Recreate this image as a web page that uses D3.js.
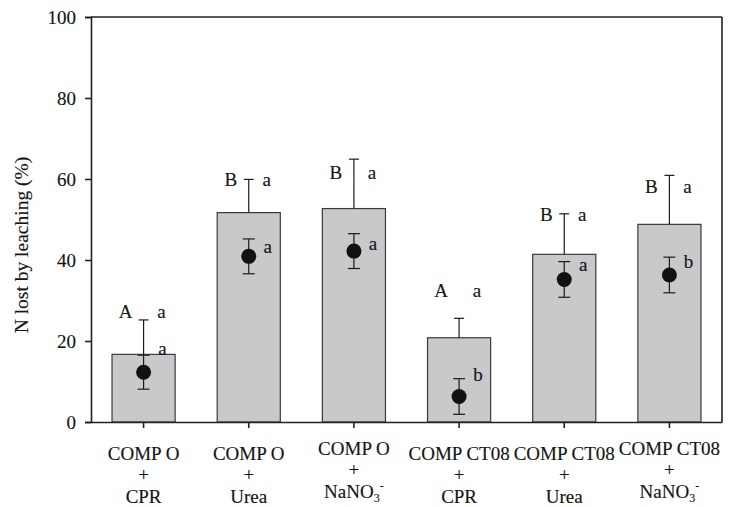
<!DOCTYPE html>
<html>
<head>
<meta charset="utf-8">
<script src="https://cdn.jsdelivr.net/npm/d3@7"></script>
<style>
  body { margin: 0; background: #fff; }
  text { font-family: 'Liberation Serif', 'Times New Roman', serif; fill: #151515; stroke: #151515; stroke-width: 0.15px; }
</style>
</head>
<body>
<div id="chart"></div>
<script>
// treatments
const composts = ['COMP O', 'COMP O', 'COMP O', 'COMP CT08', 'COMP CT08', 'COMP CT08']
const fertilizers = ['CPR', 'Urea', 'NaNO3', 'CPR', 'Urea', 'NaNO3']

// bars: N lost by leaching (%), upper error
const barMean = [16.7, 51.7, 52.7, 20.8, 41.4, 48.8]
const barErr = [8.5, 8.2, 12.2, 4.8, 10.0, 12.1]

// dots: second measure, symmetric error
const dotMean = [12.3, 40.9, 42.2, 6.3, 35.2, 36.3]
const dotErr = [4.2, 4.3, 4.3, 4.4, 4.4, 4.4]

// significance letters and where they sit (in % units, text baseline)
const barLetterUpper = ['A', 'B', 'B', 'A', 'B', 'B']
const barLetterLower = ['a', 'a', 'a', 'a', 'a', 'a']
const dotLetter = ['a', 'a', 'a', 'b', 'a', 'b']
const barLetterAt = [25.7, 58.3, 60.0, 30.9, 49.6, 56.5]
const dotLetterAt = [16.5, 41.8, 42.5, 10.1, 37.3, 38.0]

const yTicks = [0, 20, 40, 60, 80, 100]

const width = 743
const height = 507
const margin = { top: 17, right: 21, bottom: 85, left: 91 }
const innerW = width - margin.left - margin.right
const innerH = height - margin.top - margin.bottom
const fs = 19

const svg = d3.select('#chart').append('svg')
  .attr('width', width)
  .attr('height', height)

const g = svg.append('g')
  .attr('transform', 'translate(' + margin.left + ',' + margin.top + ')')

const idx = d3.range(barMean.length)

const x = d3.scaleBand()
  .domain(idx)
  .range([0, innerW])
  .paddingInner(0.4)
  .paddingOuter(0.2)

const y = d3.scaleLinear()
  .domain([0, 100])
  .range([innerH, 0])

const cx = function (i) { return x(i) + x.bandwidth() / 2 }

// bars
g.selectAll('.bar')
  .data(idx)
  .enter().append('rect')
  .attr('class', 'bar')
  .attr('x', function (i) { return x(i) })
  .attr('width', x.bandwidth())
  .attr('y', function (i) { return y(barMean[i]) })
  .attr('height', function (i) { return innerH - y(barMean[i]) })
  .attr('fill', '#c8c9cb')
  .attr('stroke', '#3a3a3a')
  .attr('stroke-width', 1.2)

// bar error (upper only)
const be = g.selectAll('.barerr')
  .data(idx)
  .enter().append('g')
  .attr('class', 'barerr')
  .attr('stroke', '#1a1a1a')
  .attr('stroke-width', 1.2)

be.append('line')
  .attr('x1', cx).attr('x2', cx)
  .attr('y1', function (i) { return y(barMean[i]) })
  .attr('y2', function (i) { return y(barMean[i] + barErr[i]) })
be.append('line')
  .attr('x1', function (i) { return cx(i) - 5 })
  .attr('x2', function (i) { return cx(i) + 5 })
  .attr('y1', function (i) { return y(barMean[i] + barErr[i]) })
  .attr('y2', function (i) { return y(barMean[i] + barErr[i]) })

// dot error
const de = g.selectAll('.doterr')
  .data(idx)
  .enter().append('g')
  .attr('class', 'doterr')
  .attr('stroke', '#1a1a1a')
  .attr('stroke-width', 1.2)

de.append('line')
  .attr('x1', cx).attr('x2', cx)
  .attr('y1', function (i) { return y(dotMean[i] - dotErr[i]) })
  .attr('y2', function (i) { return y(dotMean[i] + dotErr[i]) })
de.append('line')
  .attr('x1', function (i) { return cx(i) - 6 })
  .attr('x2', function (i) { return cx(i) + 6 })
  .attr('y1', function (i) { return y(dotMean[i] + dotErr[i]) })
  .attr('y2', function (i) { return y(dotMean[i] + dotErr[i]) })
de.append('line')
  .attr('x1', function (i) { return cx(i) - 6 })
  .attr('x2', function (i) { return cx(i) + 6 })
  .attr('y1', function (i) { return y(dotMean[i] - dotErr[i]) })
  .attr('y2', function (i) { return y(dotMean[i] - dotErr[i]) })

g.selectAll('.dot')
  .data(idx)
  .enter().append('circle')
  .attr('class', 'dot')
  .attr('cx', cx)
  .attr('cy', function (i) { return y(dotMean[i]) })
  .attr('r', 7.5)
  .attr('fill', '#111')

// letters
g.selectAll('.lu')
  .data(idx)
  .enter().append('text')
  .attr('x', function (i) { return cx(i) - 18 })
  .attr('y', function (i) { return y(barLetterAt[i]) })
  .attr('text-anchor', 'middle')
  .attr('font-size', fs)
  .text(function (i) { return barLetterUpper[i] })

g.selectAll('.ll')
  .data(idx)
  .enter().append('text')
  .attr('x', function (i) { return cx(i) + 18 })
  .attr('y', function (i) { return y(barLetterAt[i]) })
  .attr('text-anchor', 'middle')
  .attr('font-size', fs)
  .text(function (i) { return barLetterLower[i] })

g.selectAll('.ld')
  .data(idx)
  .enter().append('text')
  .attr('x', function (i) { return cx(i) + 19 })
  .attr('y', function (i) { return y(dotLetterAt[i]) })
  .attr('text-anchor', 'middle')
  .attr('font-size', fs)
  .text(function (i) { return dotLetter[i] })

// frame
g.append('line')
  .attr('x1', 0).attr('x2', innerW)
  .attr('y1', 0).attr('y2', 0)
  .attr('stroke', '#222').attr('stroke-width', 1.6)
g.append('line')
  .attr('x1', innerW).attr('x2', innerW)
  .attr('y1', 0).attr('y2', innerH)
  .attr('stroke', '#222').attr('stroke-width', 1.6)

// y axis
const yAxis = g.append('g')
  .call(d3.axisLeft(y).tickValues(yTicks).tickSize(6).tickPadding(9))
yAxis.selectAll('text').attr('font-size', fs).attr('font-family', null)
yAxis.selectAll('line, path').attr('stroke', '#222').attr('stroke-width', 1.6)

// x axis
const xAxis = g.append('g')
  .attr('transform', 'translate(0,' + innerH + ')')
  .call(d3.axisBottom(x).tickSize(6).tickSizeOuter(0).tickFormat(''))
xAxis.selectAll('line, path').attr('stroke', '#222').attr('stroke-width', 1.6)

// category labels, three lines
const lab = g.selectAll('.cat')
  .data(idx)
  .enter().append('text')
  .attr('class', 'cat')
  .attr('text-anchor', 'middle')
  .attr('font-size', fs)
  .attr('transform', function (i) {
    const shift = fertilizers[i] === 'NaNO3' ? -5 : 0
    return 'translate(' + cx(i) + ',' + (innerH + 38 + shift) + ')'
  })

lab.append('tspan').attr('x', 0).attr('y', 0).text(function (i) { return composts[i] })
lab.append('tspan').attr('x', 0).attr('y', 21).text('+')
lab.each(function (i) {
  const t = d3.select(this).append('tspan').attr('x', 0).attr('y', 43)
  if (fertilizers[i] === 'NaNO3') {
    t.text('NaNO')
    t.append('tspan').attr('font-size', 12).attr('dy', 4).text('3')
    t.append('tspan').attr('font-size', 12).attr('dy', -12).text('-')
  } else {
    t.text(fertilizers[i])
  }
})

// y title
svg.append('text')
  .attr('transform', 'translate(28,' + 245 + ') rotate(-90)')
  .attr('text-anchor', 'middle')
  .attr('font-size', fs + 0.5)
  .text('N lost by leaching (%)')
</script>
</body>
</html>
